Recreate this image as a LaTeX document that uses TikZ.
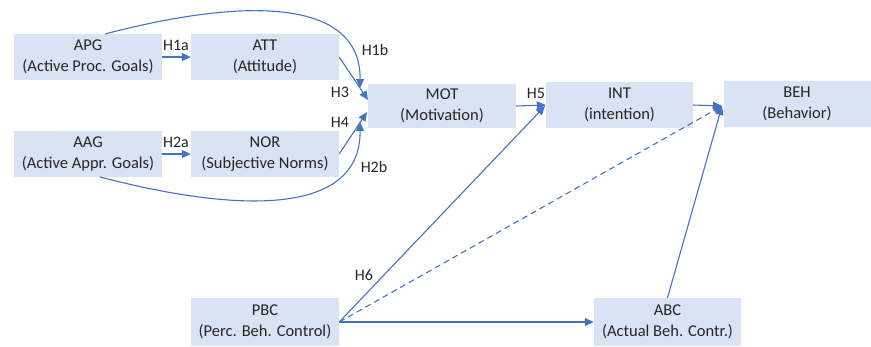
\documentclass[tikz,border=0pt]{standalone}
\usepackage{fontspec}
\setmainfont{Carlito}
\usetikzlibrary{arrows.meta,calc}
\definecolor{boxfill}{HTML}{DAE3F3}
\definecolor{arrowblue}{HTML}{4472C4}
\definecolor{txt}{HTML}{262626}
\begin{document}
\begin{tikzpicture}[x=1pt,y=-1pt,
  varbox/.style={fill=boxfill, draw=none, minimum width=148pt, minimum height=46pt,
    align=center, font=\fontsize{16.5}{20.5}\selectfont, text=txt, inner sep=0pt},
  conn/.style={draw=arrowblue, line width=1.1pt, -{Triangle[length=9pt,width=8pt]}},
  dashedline/.style={dash pattern=on 6pt off 4pt},
  hlab/.style={font=\fontsize{16}{18}\selectfont, text=txt, inner sep=0pt}]
\useasboundingbox (0,0) rectangle (871,347);
\node[varbox] (APG) at (88,57) {APG\\(Active Proc. Goals)};
\node[varbox] (ATT) at (265,57) {ATT\\(Attitude)};
\node[varbox] (AAG) at (88,154) {AAG\\(Active Appr. Goals)};
\node[varbox] (NOR) at (265,154) {NOR\\(Subjective Norms)};
\node[varbox, minimum height=44pt] (MOT) at (442,106) {MOT\\(Motivation)};
\node[varbox, minimum width=147pt] (INT) at (619.5,105) {INT\\(intention)};
\node[varbox, minimum width=147pt] (BEH) at (797,104) {BEH\\(Behavior)};
\node[varbox, minimum height=48pt] (PBC) at (265,322) {PBC\\(Perc. Beh. Control)};
\node[varbox, minimum width=147pt, minimum height=48pt] (ABC) at (667.5,322) {ABC\\(Actual Beh. Contr.)};
% convergence points
\coordinate (motA) at (360,88);
\coordinate (motB) at (368,100);
\coordinate (motC) at (367,112);
\coordinate (motD) at (360,122);
\coordinate (intIn) at (545,106);
\coordinate (behIn) at (722,106);
\coordinate (apgTop) at (105,34);
\coordinate (aagBot) at (100,177);
% connectors
\draw[conn] (APG.east) -- (ATT.west);
\draw[conn] (AAG.east) -- (NOR.west);
\draw[conn] (apgTop) .. controls (250,-4) and (361,0) .. (motA);
\draw[conn] (aagBot) .. controls (250,216) and (361,212) .. (motD);
\draw[conn] (ATT.east) -- (motB);
\draw[conn] (NOR.east) -- (motC);
\draw[conn] (MOT.east) -- (INT.west);
\draw[conn] (INT.east) -- (behIn);
\draw[conn] (PBC.east) -- (intIn);
\draw[conn, dashedline] (PBC.east) -- (behIn);
\draw[conn] (PBC.east) -- (ABC.west);
\draw[conn] (ABC.north) -- (behIn);
% labels
\node[hlab] (l1a) at (176,45) {H1a};
\node[hlab] (l2a) at (176,142) {H2a};
\node[hlab] (l1b) at (375,50) {H1b};
\node[hlab] (l3) at (340,92) {H3};
\node[hlab] (l4) at (340,122) {H4};
\node[hlab] (l2b) at (374,167) {H2b};
\node[hlab] (l5) at (536,93) {H5};
\node[hlab] (l6) at (364,275) {H6};
\end{tikzpicture}
\end{document}
